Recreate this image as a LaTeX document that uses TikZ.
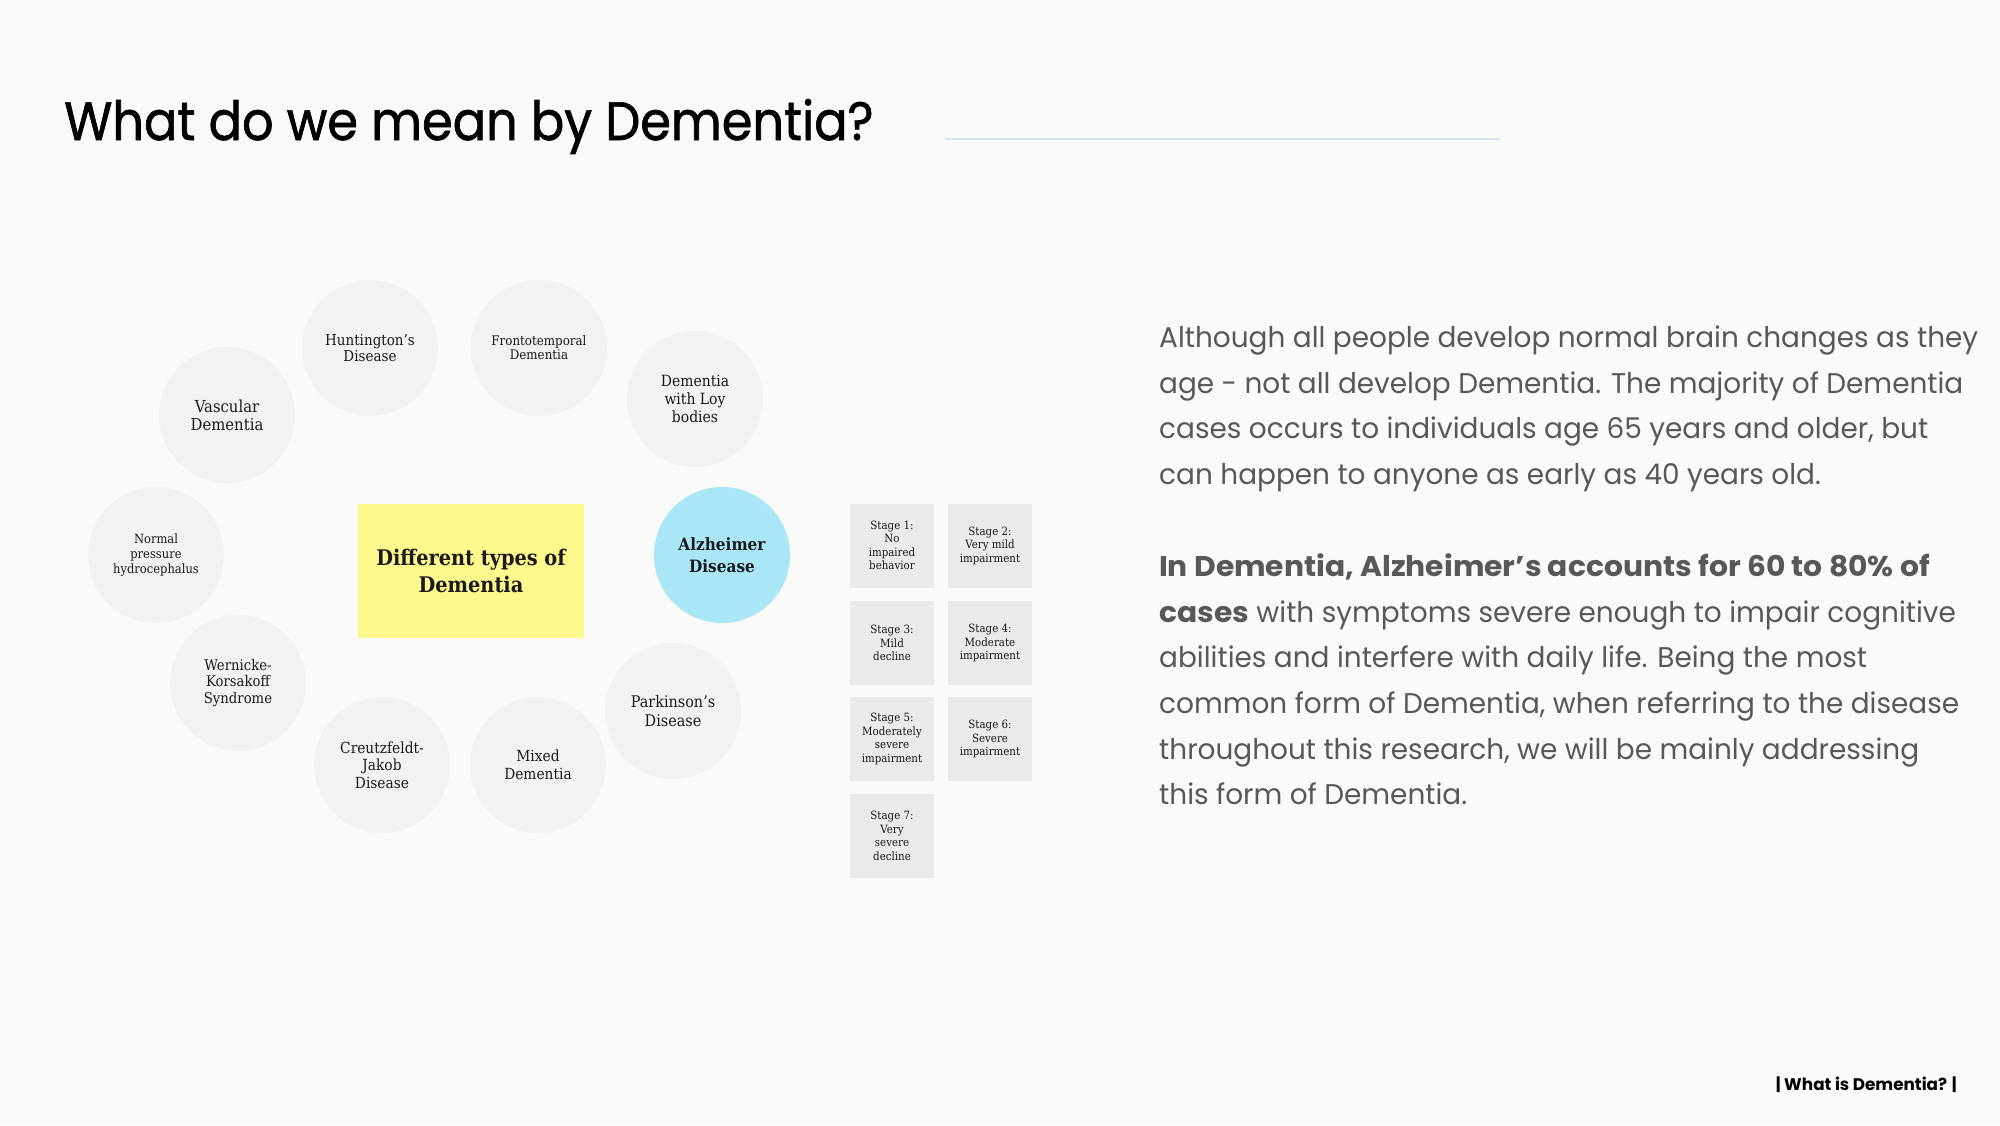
\documentclass[tikz,border=0pt]{standalone}
\usepackage{fontspec}
\setmainfont{Poppins}[FakeStretch=0.98]
\newfontfamily\pbold[FakeStretch=1.045]{Poppins}
\newfontfamily\ptitle[FakeStretch=0.915,FakeBold=1.2]{Poppins}
\newfontfamily\pfoot{Poppins}
\newfontfamily\slab[FakeStretch=0.9]{DejaVu Serif}
\definecolor{bg}{HTML}{FAFAF8}
\definecolor{circ}{HTML}{F2F2F2}
\definecolor{alz}{HTML}{A9E7F7}
\definecolor{yel}{HTML}{FDF98D}
\definecolor{stg}{HTML}{EAEAEA}
\definecolor{rulec}{HTML}{D5E3F7}
\definecolor{txt}{HTML}{585858}
\definecolor{ink}{HTML}{1A1A1A}
\begin{document}
\begin{tikzpicture}[x=1pt,y=-1pt,
  disc/.style={circle, fill=circ, minimum size=136pt, inner sep=0pt, align=center, text=ink},
  stagebox/.style={rectangle, fill=stg, minimum width=84pt, minimum height=84pt, inner sep=0pt, align=center, text=ink, font=\slab\fontsize{11.4}{13.5}\selectfont},
  bodyline/.style={anchor=base west, inner sep=0pt, text=txt, font=\fontsize{28.5}{34}\selectfont}]
\fill[bg] (0,0) rectangle (2000,1125);
\useasboundingbox (0,0) rectangle (2000,1125);

% title
\node[anchor=base west, inner sep=0pt, text=black, font=\ptitle\fontsize{54}{60}\selectfont] (title) at (64,140) {What do we mean by Dementia?};
\coordinate (ruleA) at (945,139);
\coordinate (ruleB) at (1500,139);
\draw[rulec, line width=2.5pt] (ruleA) -- (ruleB);

% circles
\node[disc, font=\slab\fontsize{15}{16}\selectfont] (hunt) at (370,348) {Huntington’s\\Disease};
\node[disc, font=\slab\fontsize{13.2}{14}\selectfont] (fronto) at (539,348) {Frontotemporal\\Dementia};
\node[disc, font=\slab\fontsize{15.5}{18}\selectfont] (loy) at (695,399) {Dementia\\with Loy\\bodies};
\node[disc, font=\slab\fontsize{16.5}{18}\selectfont] (vasc) at (227,415) {Vascular\\Dementia};
\node[disc, font=\slab\fontsize{12.8}{15}\selectfont] (nph) at (156,555) {Normal\\pressure\\hydrocephalus};
\node[disc, fill=alz, font=\slab\bfseries\fontsize{17}{21.7}\selectfont] (alzh) at (722,555) {Alzheimer\\Disease};
\node[disc, font=\slab\fontsize{14.7}{16.7}\selectfont] (wern) at (238,683) {Wernicke-\\Korsakoff\\Syndrome};
\node[disc, font=\slab\fontsize{16}{18.7}\selectfont] (park) at (673,711) {Parkinson’s\\Disease};
\node[disc, font=\slab\fontsize{15.3}{17.7}\selectfont] (cjd) at (382,765) {Creutzfeldt-\\Jakob\\Disease};
\node[disc, font=\slab\fontsize{15.3}{18}\selectfont] (mixed) at (538,765) {Mixed\\Dementia};

% centre box
\node[rectangle, fill=yel, minimum width=226pt, minimum height=134pt, inner sep=0pt, align=center, text=ink, font=\slab\bfseries\fontsize{21.5}{26.7}\selectfont] (types) at (471,571) {Different types of\\Dementia};

% stages
\node[stagebox] (s1) at (892,545.5) {Stage 1:\\No\\impaired\\behavior};
\node[stagebox] (s2) at (990,545.5) {Stage 2:\\Very mild\\impairment};
\node[stagebox] (s3) at (892,643) {Stage 3:\\Mild\\decline};
\node[stagebox] (s4) at (990,643) {Stage 4:\\Moderate\\impairment};
\node[stagebox] (s5) at (892,739) {Stage 5:\\Moderately\\severe\\impairment};
\node[stagebox] (s6) at (990,739) {Stage 6:\\Severe\\impairment};
\node[stagebox] (s7) at (892,836) {Stage 7:\\Very\\severe\\decline};

% body text
\node[bodyline] (p1a) at (1159,347) {Although all people develop normal brain changes as they};
\node[bodyline] (p1b) at (1159,393) {age - not all develop Dementia. The majority of Dementia};
\node[bodyline] (p1c) at (1159,438) {cases occurs to individuals age 65 years and older, but};
\node[bodyline] (p1d) at (1159,484) {can happen to anyone as early as 40 years old.};
\node[bodyline] (p2a) at (1159,576) {{\pbold\bfseries In Dementia, Alzheimer’s accounts for 60 to 80\% of}};
\node[bodyline] (p2b) at (1159,622) {{\pbold\bfseries cases} with symptoms severe enough to impair cognitive};
\node[bodyline] (p2c) at (1159,667) {abilities and interfere with daily life. Being the most};
\node[bodyline] (p2d) at (1159,713) {common form of Dementia, when referring to the disease};
\node[bodyline] (p2e) at (1159,759) {throughout this research, we will be mainly addressing};
\node[bodyline] (p2f) at (1159,804) {this form of Dementia.};

% footer
\node[anchor=base east, inner sep=0pt, text=black, font=\pfoot\bfseries\fontsize{16.8}{20}\selectfont] (foot) at (1957,1090) {| What is Dementia? |};
\end{tikzpicture}
\end{document}
